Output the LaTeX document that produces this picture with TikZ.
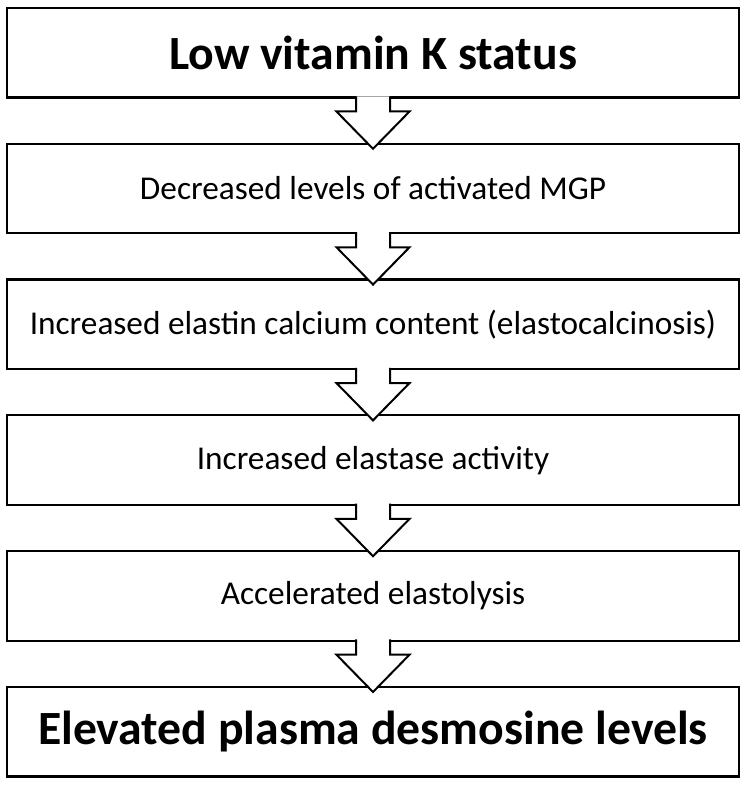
\documentclass[tikz,border=0pt]{standalone}
\usepackage{fontspec}
\setmainfont{Carlito}
\usetikzlibrary{calc,positioning}
\tikzset{stage/.style={draw,line width=2.2pt,fill=white,minimum width=732pt,minimum height=89.5pt,outer sep=0pt,inner sep=2pt,align=center,font=\fontsize{33.3}{38}\selectfont},keystage/.style={stage,font=\fontsize{47.7}{54}\selectfont\bfseries},blockarrow/.style={draw,line width=2pt,fill=white,line join=miter}}
\newcommand{\blockarrow}[2]{%
  \path[blockarrow]($(#1.south)+(-17,1.2)$)|-($(#1.south)+(-36.5,-14)$)--($(#2.north)+(0,-5)$)--($(#1.south)+(36.5,-14)$)-|($(#1.south)+(17,1.2)$);}

\begin{document}
\begin{tikzpicture}[x=1pt,y=1pt,node distance=46.3pt]
  \useasboundingbox(0,0)rectangle(748,785);
  \node[keystage](vitk)at(373,732.25){Low vitamin K status};
  \node[stage,below=of vitk](mgp){Decreased levels of activated MGP};
  \node[stage,below=of mgp](calc){Increased elastin calcium content (elastocalcinosis)};
  \node[stage,below=of calc](elastase){Increased elastase activity};
  \node[stage,below=of elastase](lysis){Accelerated elastolysis};
  \node[keystage,below=of lysis](desmo){Elevated plasma desmosine levels};
  % arrows between stages
  \blockarrow{vitk}{mgp}
  \blockarrow{mgp}{calc}
  \blockarrow{calc}{elastase}
  \blockarrow{elastase}{lysis}
  \blockarrow{lysis}{desmo}
\end{tikzpicture}
\end{document}
